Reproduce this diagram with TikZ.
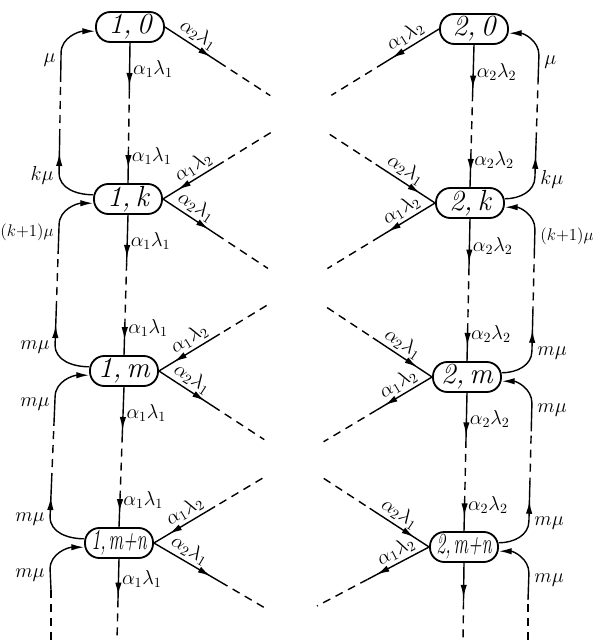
\documentclass[tikz,border=0pt]{standalone}
\usetikzlibrary{arrows.meta,calc,decorations.markings}

% vertical transition: #1 upper state, #2 lower state, #3 rate
\newcommand{\vlink}[3]{%
  \draw[arrowat=0.9] (#1.south) -- ($(#1.south)!0.34!(#2.north)$)
    node[rate, right, pos=0.55] {#3};
  \draw[gapline] ($(#1.south)!0.34!(#2.north)$) -- ($(#1.south)!0.76!(#2.north)$);
  \draw[arrowat=0.55] ($(#1.south)!0.76!(#2.north)$) -- (#2.north)
    node[rate, right, pos=0.2] {#3};
}

% service loop on the left: #1 lower state, #2 upper state, #3/#4 rates
\newcommand{\lloop}[4]{%
  \coordinate (lb) at ($(#1.west)+(-34,-26)$);
  \coordinate (lt) at ($(#2.west)+(-34,26)$);
  \draw[arrowat=0.8] ([yshift=3pt]#1.west) to[out=180, in=-90] (lb)
    -- ($(lb)!0.3!(lt)$);
  \draw[gapline] ($(lb)!0.3!(lt)$) -- ($(lb)!0.76!(lt)$);
  \draw[-{Latex[length=3.2mm,width=1.6mm]}] ($(lb)!0.76!(lt)$) -- (lt)
    to[out=90, in=180] ([yshift=-3pt]#2.west);
  \node[rate, left] at ($(lb)+(-2,2)$) {#3};
  \node[rate, left] at ($(lt)+(-2,7)$) {#4};
}

% service loop on the right
\newcommand{\rloop}[4]{%
  \coordinate (rb) at ($(#1.east)+(30,-26)$);
  \coordinate (rt) at ($(#2.east)+(30,26)$);
  \draw[arrowat=0.8] ([yshift=3pt]#1.east) to[out=0, in=-90] (rb)
    -- ($(rb)!0.3!(rt)$);
  \draw[gapline] ($(rb)!0.3!(rt)$) -- ($(rb)!0.76!(rt)$);
  \draw[-{Latex[length=3.2mm,width=1.6mm]}] ($(rb)!0.76!(rt)$) -- (rt)
    to[out=90, in=0] ([yshift=-3pt]#2.east);
  \node[rate, right] at ($(rb)+(2,2)$) {#3};
  \node[rate, right] at ($(rt)+(2,7)$) {#4};
}

% crossing transition with a gap in the middle: #1.#2 to #3.#4, rate #5
\newcommand{\xlink}[5]{%
  \draw[arrowat=0.85] (#1.#2) -- ($(#1.#2)!0.2!(#3.#4)$)
    node[rate, sloped, above, pos=0.5] {#5};
  \draw[gapline] ($(#1.#2)!0.2!(#3.#4)$) -- ($(#1.#2)!0.39!(#3.#4)$);
  \draw[gapline] ($(#1.#2)!0.61!(#3.#4)$) -- ($(#1.#2)!0.78!(#3.#4)$);
  \draw[arrowat=0.75] ($(#1.#2)!0.78!(#3.#4)$) -- (#3.#4)
    node[rate, sloped, above, pos=0.4] {#5};
}

\begin{document}
\begin{tikzpicture}[x=0.025cm, y=-0.025cm, line width=1pt,
            statebox/.style={
                draw,
                line width=1.3pt,
                rounded corners=0.36cm,
                minimum width=1.7cm,
                minimum height=0.75cm,
                inner xsep=1pt,
                inner ysep=0pt,
                font=\huge\itshape
            },
            rate/.style={
                font=\Large,
                inner sep=2pt
            },
            gapline/.style={
                dash pattern=on 2mm off 1.5mm
            },
            arrowat/.style={
                postaction={decorate},
                decoration={markings,
                    mark=at position #1 with {\arrow{Latex[length=3.2mm,width=1.6mm]}}}
            }
        ]

        \useasboundingbox (0,0) rectangle (600,643);

        % States of the first column
        \node[statebox] (s10) at (130,27) {1,\,0};
        \node[statebox] (s1k) at (128,199) {1,\,k};
        \node[statebox] (s1m) at (124,371) {1,\,m};
        \node[statebox] (s1mn) at (119,543) {\scalebox{0.62}[1]{1,\,m+n}};

        % States of the second column
        \node[statebox] (s20) at (474,29) {2,\,0};
        \node[statebox] (s2k) at (470,203) {2,\,k};
        \node[statebox] (s2m) at (467,377) {2,\,m};
        \node[statebox] (s2mn) at (464,547) {\scalebox{0.62}[1]{2,\,m+n}};

        % Free ends below the last row
        \coordinate (xtail1) at (265,608);
        \coordinate (xtail2) at (317,606);
        \coordinate (vtail1) at (117,640);
        \coordinate (vtail2) at (463,640);
        \coordinate (ltail) at (51,640);
        \coordinate (rtail) at (528,640);

        % Arrivals down each column
        \vlink{s10}{s1k}{$\alpha_1\lambda_1$}
        \vlink{s1k}{s1m}{$\alpha_1\lambda_1$}
        \vlink{s1m}{s1mn}{$\alpha_1\lambda_1$}
        \vlink{s20}{s2k}{$\alpha_2\lambda_2$}
        \vlink{s2k}{s2m}{$\alpha_2\lambda_2$}
        \vlink{s2m}{s2mn}{$\alpha_2\lambda_2$}

        % Services back up each column
        \lloop{s1k}{s10}{$k\mu$}{$\mu$}
        \lloop{s1m}{s1k}{$m\mu$}{\large$(k{+}1)\mu$}
        \lloop{s1mn}{s1m}{$m\mu$}{$m\mu$}
        \rloop{s2k}{s20}{$k\mu$}{$\mu$}
        \rloop{s2m}{s2k}{$m\mu$}{\large$(k{+}1)\mu$}
        \rloop{s2mn}{s2m}{$m\mu$}{$m\mu$}

        % Crossings between the columns
        \xlink{s10}{east}{s2k}{west}{$\alpha_2\lambda_1$}
        \xlink{s20}{west}{s1k}{east}{$\alpha_1\lambda_2$}
        \xlink{s1k}{east}{s2m}{west}{$\alpha_2\lambda_1$}
        \xlink{s2k}{west}{s1m}{east}{$\alpha_1\lambda_2$}
        \xlink{s1m}{east}{s2mn}{west}{$\alpha_2\lambda_1$}
        \xlink{s2m}{west}{s1mn}{east}{$\alpha_1\lambda_2$}

        % Open ends below the last row
        \draw[arrowat=0.85] (s1mn.east) -- ($(s1mn.east)!0.6!(xtail1)$)
            node[rate, sloped, above, pos=0.45] {$\alpha_2\lambda_1$};
        \draw[gapline] ($(s1mn.east)!0.6!(xtail1)$) -- (xtail1);
        \draw[arrowat=0.85] (s2mn.west) -- ($(s2mn.west)!0.55!(xtail2)$)
            node[rate, sloped, above, pos=0.45] {$\alpha_1\lambda_2$};
        \draw[gapline] ($(s2mn.west)!0.55!(xtail2)$) -- (xtail2);

        \draw[arrowat=0.9] (s1mn.south) -- ($(s1mn.south)!0.5!(vtail1)$)
            node[rate, right, pos=0.5] {$\alpha_1\lambda_1$};
        \draw[gapline] ($(s1mn.south)!0.5!(vtail1)$) -- (vtail1);
        \draw[arrowat=0.9] (s2mn.south) -- ($(s2mn.south)!0.5!(vtail2)$);
        \draw[gapline] ($(s2mn.south)!0.5!(vtail2)$) -- (vtail2);

        \draw[gapline] (ltail) -- ($(ltail)+(0,-50)$);
        \draw[-{Latex[length=3.2mm,width=1.6mm]}] ($(ltail)+(0,-50)$)
            -- ($(s1mn.west)+(-34,26)$) to[out=90, in=180] ([yshift=-3pt]s1mn.west);
        \node[rate, left] at ($(s1mn.west)+(-36,32)$) {$m\mu$};

        \draw[gapline] (rtail) -- ($(rtail)+(0,-40)$);
        \draw[-{Latex[length=3.2mm,width=1.6mm]}] ($(rtail)+(0,-40)$)
            -- ($(s2mn.east)+(30,26)$) to[out=90, in=0] ([yshift=-3pt]s2mn.east);
        \node[rate, right] at ($(s2mn.east)+(32,33)$) {$m\mu$};
\end{tikzpicture}
\end{document}
